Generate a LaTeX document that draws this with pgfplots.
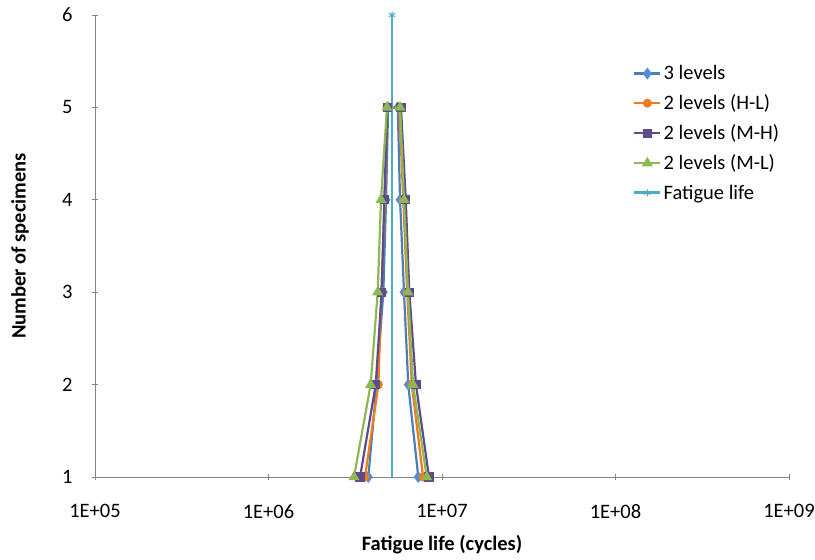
\documentclass[border=0pt]{standalone}
\usepackage{pgfplots}
\pgfplotsset{compat=1.18}
\usepackage{fontspec}
\setmainfont{Carlito}
\definecolor{cblue}{HTML}{4A7EBB}
\definecolor{cbluem}{HTML}{4F8FD9}
\definecolor{corange}{HTML}{F07A1C}
\definecolor{cpurple}{HTML}{5F4A8B}
\definecolor{cgreen}{HTML}{8DB952}
\definecolor{cteal}{HTML}{4BACC6}
\definecolor{axgray}{HTML}{868686}
\newcommand{\labfont}{\fontsize{20.5}{24}\selectfont}
\newcommand{\tickfont}{\fontsize{20.5}{24}\selectfont}
\begin{document}
\begin{tikzpicture}
\begin{axis}[
  scale only axis,
  width=694pt, height=462pt,
  xmode=log, log basis x=10,
  xmin=1e5, xmax=1e9, ymin=1, ymax=6,
  axis x line*=bottom, axis y line*=left,
  axis line style={axgray, line width=0.8pt},
  xtick={1e5,1e6,1e7,1e8,1e9},
  xticklabels={1E+05,1E+06,1E+07,1E+08,1E+09},
  ytick={1,2,3,4,5,6},
  tick style={axgray, line width=0.8pt},
  major tick length=6pt, minor tick length=3pt,
  tick align=center,
  minor tick style={/pgfplots/tick align=inside},
  tick label style={font=\tickfont},
  every x tick label/.append style={yshift=-21pt},
  every y tick label/.append style={xshift=-16pt},
  /pgf/number format/assume math mode=true,
  xlabel={\textbf{Fatigue life (cycles)}},
  ylabel={\textbf{Number of specimens}},
  label style={font=\labfont},
  xlabel style={at={(axis description cs:0.5,-0.147)}, anchor=center},
  ylabel style={at={(axis description cs:-0.108,0.5)}, anchor=center, rotate=0},
  clip=false,
  legend style={draw=none, fill=none, at={(0.775,0.895)}, anchor=north west,
    font=\tickfont, row sep=9.5pt, inner sep=0pt},
  legend cell align=left,
  legend image code/.code={
    \draw[#1, mark indices={2}] plot coordinates {(0pt,0pt) (13pt,0pt) (26pt,0pt)};},
]
\addplot[cblue, line width=2.2pt, mark=diamond*, mark size=4.2pt, mark options={fill=cbluem, draw=cbluem, solid}] coordinates {
(3.76e6,1) (4.20e6,2) (4.59e6,3) (4.76e6,4) (4.89e6,5)
(5.56e6,5) (5.73e6,4) (6.04e6,3) (6.39e6,2) (7.30e6,1)};
\addlegendentry{3 levels}
\addplot[corange, line width=2.2pt, mark=*, mark size=3.3pt, mark options={fill=corange, solid}] coordinates {
(3.60e6,1) (4.30e6,2) (4.47e6,3) (4.68e6,4) (4.82e6,5)
(5.67e6,5) (5.98e6,4) (6.30e6,3) (6.70e6,2) (7.78e6,1)};
\addlegendentry{2 levels (H-L)}
\addplot[cpurple, line width=2.2pt, mark=square*, mark size=3.5pt, mark options={fill=cpurple, solid}] coordinates {
(3.37e6,1) (4.15e6,2) (4.49e6,3) (4.65e6,4) (4.84e6,5)
(5.80e6,5) (6.18e6,4) (6.48e6,3) (7.08e6,2) (8.41e6,1)};
\addlegendentry{2 levels (M-H)}
\addplot[cgreen, line width=2.2pt, mark=triangle*, mark size=4.2pt, mark options={fill=cgreen, solid}] coordinates {
(3.11e6,1) (3.88e6,2) (4.26e6,3) (4.45e6,4) (4.82e6,5)
(5.73e6,5) (6.04e6,4) (6.37e6,3) (6.81e6,2) (8.16e6,1)};
\addlegendentry{2 levels (M-L)}
\addplot[cteal, line width=2.6pt, mark=asterisk, mark size=3.5pt, mark indices={2}, mark options={solid, line width=1pt}] coordinates {
(5.15e6,1) (5.15e6,6)};
\addlegendentry{Fatigue life}
\end{axis}
\pgfresetboundingbox
\path (-95pt,-83pt) rectangle (720pt,477pt);
\end{tikzpicture}
\end{document}
